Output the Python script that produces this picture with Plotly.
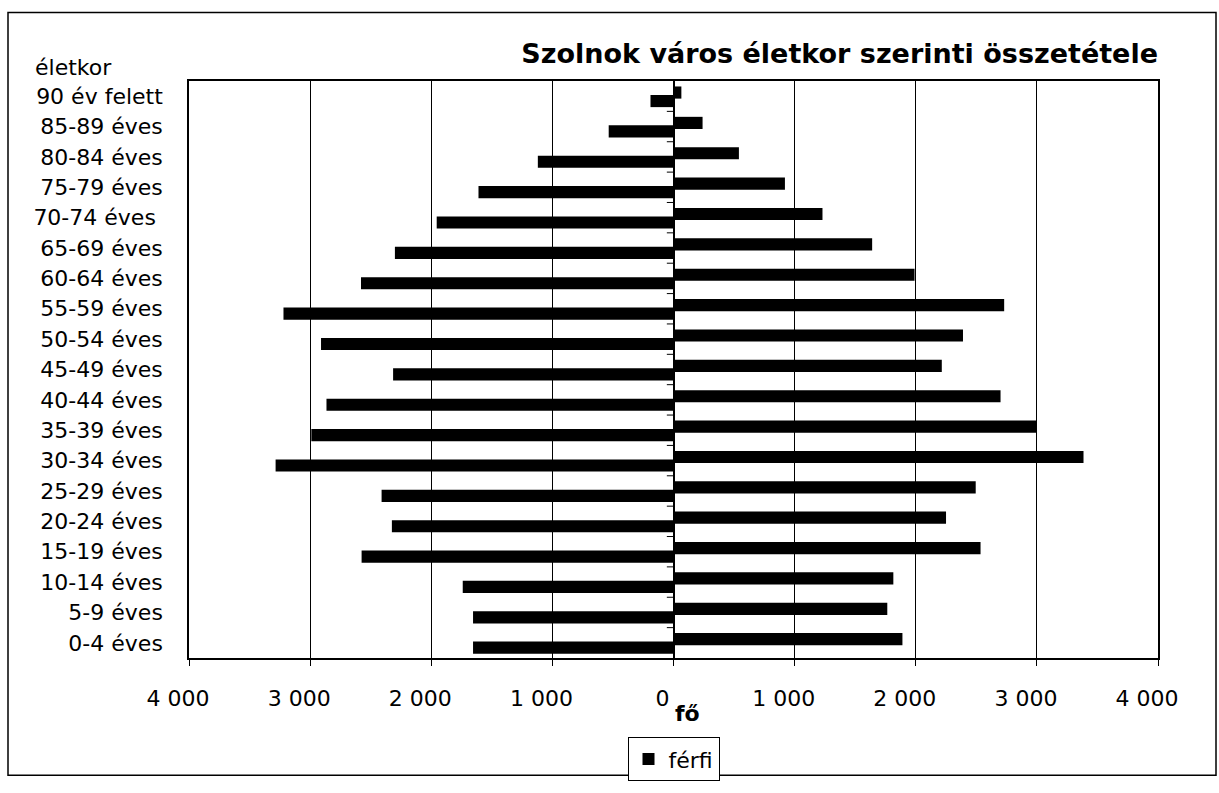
import plotly.graph_objects as go

# Categories listed bottom-to-top
categories = ["0-4 éves", "5-9 éves", "10-14 éves", "15-19 éves", "20-24 éves",
              "25-29 éves", "30-34 éves", "35-39 éves", "40-44 éves", "45-49 éves",
              "50-54 éves", "55-59 éves", "60-64 éves", "65-69 éves", "70-74 éves ",
              "75-79 éves", "80-84 éves", "85-89 éves", "90 év felett"]

# right side (férfi)
ferfi = [1890, 1765, 1815, 2535, 2250, 2495, 3385, 3000, 2700, 2215,
         2390, 2730, 1990, 1640, 1230, 920, 540, 240, 65]
# left side (other series, not in legend)
no = [1655, 1655, 1740, 2575, 2325, 2410, 3285, 2990, 2865, 2315,
      2910, 3220, 2580, 2300, 1955, 1610, 1120, 535, 190]

tick_vals = [-4000, -3000, -2000, -1000, 0, 1000, 2000, 3000, 4000]
tick_text = ["4 000", "3 000", "2 000", "1 000", "0", "1 000", "2 000", "3 000", "4 000"]

FONT = "DejaVu Sans"
BAR_W = 0.4

fig = go.Figure()
fig.add_trace(go.Bar(
    y=categories, x=ferfi, orientation="h", name="férfi",
    marker=dict(color="black", line=dict(width=0)),
    width=BAR_W, offset=-0.08, showlegend=True,
))
fig.add_trace(go.Bar(
    y=categories, x=[-v for v in no], orientation="h", name="nő",
    marker=dict(color="black", line=dict(width=0)),
    width=BAR_W, offset=-0.36, showlegend=False,
))

# small tick marks on the category axis (at x = 0), between categories
shapes = []
for i in range(len(categories) - 1):
    shapes.append(dict(type="line", xref="x", yref="y", x0=-55, x1=0,
                       y0=i + 0.5, y1=i + 0.5, line=dict(color="black", width=1)))
# outer chart border
shapes.append(dict(type="rect", xref="paper", yref="paper",
                   x0=(8 - 189) / 969, x1=(1216 - 189) / 969,
                   y0=(671 - 791) / 590, y1=(671 - 11) / 590,
                   line=dict(color="black", width=1.5)))

fig.update_layout(
    width=1219, height=793,
    margin=dict(l=189, r=61, t=81, b=122),
    paper_bgcolor="white", plot_bgcolor="white",
    barmode="overlay",
    font=dict(family=FONT, color="black", size=22),
    title=dict(text="<b>Szolnok város életkor szerinti összetétele</b>",
               font=dict(family=FONT, size=27, color="black"),
               xref="paper", x=1.0, xanchor="right",
               yref="container", y=1 - 54 / 793, yanchor="middle"),
    xaxis=dict(range=[-4000, 4000], tickvals=tick_vals, ticktext=tick_text,
               showgrid=True, gridcolor="black", gridwidth=1,
               zeroline=True, zerolinecolor="black", zerolinewidth=1.5,
               showline=True, linecolor="black", linewidth=1.5, mirror=True,
               ticks="outside", ticklen=6, tickcolor="black",
               tickfont=dict(family=FONT, size=22, color="black"),
               ticklabelstandoff=14, ticklabelshift=-11, fixedrange=True),
    yaxis=dict(type="category", categoryorder="array", categoryarray=categories,
               range=[-0.5, len(categories) - 0.5],
               showgrid=False, zeroline=False,
               showline=True, linecolor="black", linewidth=1.5, mirror=True,
               ticks="", tickfont=dict(family=FONT, size=22, color="black"),
               ticklabelstandoff=20, fixedrange=True),
    legend=dict(orientation="h", x=0.5, xanchor="center",
                y=(671 - 752) / 590, yanchor="top",
                bordercolor="black", borderwidth=1, bgcolor="white",
                font=dict(family=FONT, size=22, color="black"),
                itemwidth=30),
    shapes=shapes,
    annotations=[
        dict(text="életkor", xref="paper", yref="paper",
             x=(33 - 189) / 969, y=(671 - 82) / 590,
             xanchor="left", yanchor="bottom", showarrow=False,
             font=dict(family=FONT, size=22, color="black")),
        dict(text="<b>fő</b>", xref="paper", yref="paper",
             x=(687 - 189) / 969, y=(671 - 728) / 590,
             xanchor="center", yanchor="middle", showarrow=False,
             font=dict(family=FONT, size=22, color="black")),
    ],
)

fig.write_html("out.html", config={"displayModeBar": False},
               post_script="document.body.style.margin='0';")
